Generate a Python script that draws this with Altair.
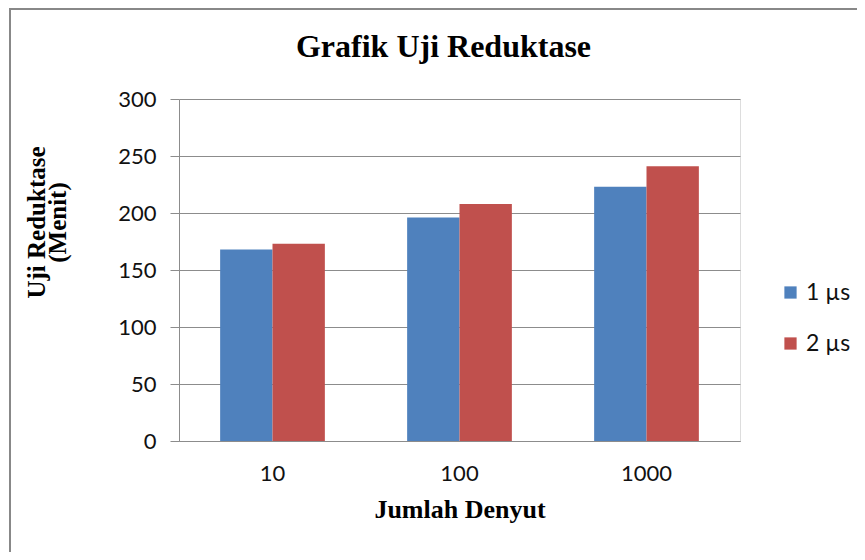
import altair as alt
import pandas as pd

categories = ["10", "100", "1000"]
series_names = ["1 µs", "2 µs"]
values_1us = [168, 196, 223]
values_2us = [173, 208, 241]
colors = ["#4F81BD", "#C0504D"]
y_ticks = [0, 50, 100, 150, 200, 250, 300]

rows = []
for i, c in enumerate(categories):
    rows.append({"cat": c, "seri": series_names[0], "nilai": values_1us[i]})
    rows.append({"cat": c, "seri": series_names[1], "nilai": values_2us[i]})
df = pd.DataFrame(rows)

grey = "#8c8c8c"

bars = alt.Chart(df).mark_bar().encode(
    x=alt.X(
        "cat:N",
        sort=categories,
        scale=alt.Scale(paddingInner=0.44, paddingOuter=0.22),
        axis=alt.Axis(
            title="Jumlah Denyut",
            labelAngle=0,
            ticks=False,
            tickSize=0,
            labelPadding=22,
            labelFont="Lato",
            labelFontSize=22,
            labelColor="#111",
            domainColor=grey,
            titleFont="Liberation Serif",
            titleFontSize=26,
            titleFontWeight="bold",
            titleColor="#000",
            titlePadding=12,
            grid=False,
        ),
    ),
    xOffset=alt.XOffset("seri:N", sort=series_names, scale=alt.Scale(paddingInner=0, paddingOuter=0)),
    y=alt.Y(
        "nilai:Q",
        scale=alt.Scale(domain=[0, 300]),
        axis=alt.Axis(
            values=y_ticks,
            title=["Uji Reduktase", "(Menit)"],
            titleFont="Liberation Serif",
            titleFontSize=25,
            titleFontWeight="bold",
            titleColor="#000",
            titleAngle=270,
            titleAlign="center",
            titleBaseline="top",
            titleX=-155,
            titleY=123,
            titleLineHeight=21,
            labelFont="Lato",
            labelFontSize=22,
            labelColor="#111",
            labelPadding=14,
            tickSize=9,
            tickColor=grey,
            domainColor=grey,
            gridColor=grey,
            gridOpacity=1,
        ),
    ),
    color=alt.Color(
        "seri:N",
        scale=alt.Scale(domain=series_names, range=colors),
        legend=alt.Legend(
            title=None,
            orient="none",
            legendX=600,
            legendY=182,
            symbolType="square",
            symbolSize=150,
            symbolStrokeWidth=0,
            labelFont="Lato",
            labelFontSize=23,
            labelColor="#111",
            rowPadding=27,
            labelOffset=4,
        ),
    ),
)

frame_df = pd.DataFrame({"k": [0]})
frame = alt.Chart(frame_df).mark_rect(fill=None, stroke="#888888", strokeWidth=2).encode(
    x=alt.value(-169), x2=alt.value(700), y=alt.value(-90), y2=alt.value(470)
)

chart = alt.layer(frame, bars).properties(
    width=561,
    height=342,
    padding={"left": 171, "top": 91, "right": 117, "bottom": 111},
    autosize=alt.AutoSizeParams(type="none"),
    title=alt.TitleParams(
        "Grafik Uji Reduktase",
        font="Liberation Serif",
        fontSize=32,
        fontWeight="bold",
        color="#000",
        anchor="middle",
        frame="group",
        dx=-16,
        dy=94,
        offset=38,
    ),
).configure_view(stroke=None).configure(background="white")

chart.save("out.html", embed_options={"renderer": "svg", "actions": False})
